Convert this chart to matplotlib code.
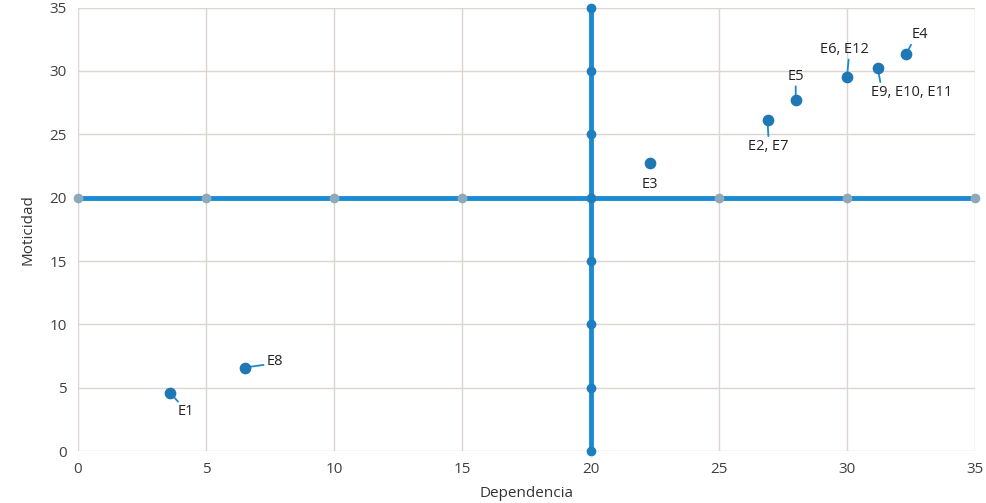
import matplotlib
matplotlib.use("Agg")
import matplotlib.pyplot as plt

# Datos de los puntos (Dependencia, Motricidad)
etiquetas = ["E1", "E8", "E3", "E2, E7", "E5", "E6, E12", "E9, E10, E11", "E4"]
dependencia = [3.6, 6.5, 22.3, 26.9, 28.0, 30.0, 31.2, 32.3]
moticidad = [4.6, 6.6, 22.7, 26.1, 27.7, 29.5, 30.2, 31.3]

# posicion de las etiquetas respecto al punto (desplazamiento en pixeles)
desplaz = [(16, -19), (30, 6), (0, -21), (1, -26), (0, 24), (-3, 28), (34, -24), (14, 20)]
# punto de la etiqueta donde llega la linea guia
anclas = [(0.15, 1), (0, 0.3), None, (0.5, 1), (0.5, 0), (0.6, 0), (0.12, 1), (0.05, 0)]

ejes_x = [0, 5, 10, 15, 20, 25, 30, 35]
ejes_y = [0, 5, 10, 15, 20, 25, 30, 35]
corte = 20

azul = "#1a8bd3"
punto = "#1f78b4"

plt.rcParams['font.family'] = ['Open Sans', 'DejaVu Sans']
fig = plt.figure(figsize=(9.87, 5.03), dpi=100)
ax = fig.add_axes([0.079, 0.103, 0.909, 0.882])

# lineas de corte
ax.plot(ejes_x, [corte] * len(ejes_x), color=azul, lw=3.5, marker='o', ms=6,
        mfc="#8fa9bb", mec="#8fa9bb", zorder=3, clip_on=False)
ax.plot([corte] * len(ejes_y), ejes_y, color=azul, lw=3.5, marker='o', ms=6,
        mfc="#1e7fc0", mec="#1e7fc0", zorder=3, clip_on=False)

ax.scatter(dependencia, moticidad, s=55, color=punto, zorder=5)

for x, y, t, (dx, dy), rel in zip(dependencia, moticidad, etiquetas, desplaz, anclas):
    props = None
    if rel is not None:
        props = dict(arrowstyle='-', color=azul, lw=1.3, shrinkA=0, shrinkB=0, relpos=rel)
    ax.annotate(t, (x, y), xytext=(dx, dy), textcoords='offset pixels',
                ha='center', va='center', fontsize=10.5, color="#222222",
                arrowprops=props, zorder=4)

ax.set_xlim(0, 35)
ax.set_ylim(0, 35)
ax.set_xticks(ejes_x)
ax.set_yticks(ejes_y)
ax.grid(True, color="#dcd5d0", lw=1)
ax.set_axisbelow(True)
for s in ax.spines.values():
    s.set_visible(False)
ax.tick_params(length=0, labelsize=11, labelcolor="#404040", pad=8)
ax.set_ylabel("Moticidad", fontsize=11, color="#333333", labelpad=10)
ax.set_xlabel("Dependencia", fontsize=11, color="#333333", labelpad=6)

fig.savefig("out.png", dpi=100)
